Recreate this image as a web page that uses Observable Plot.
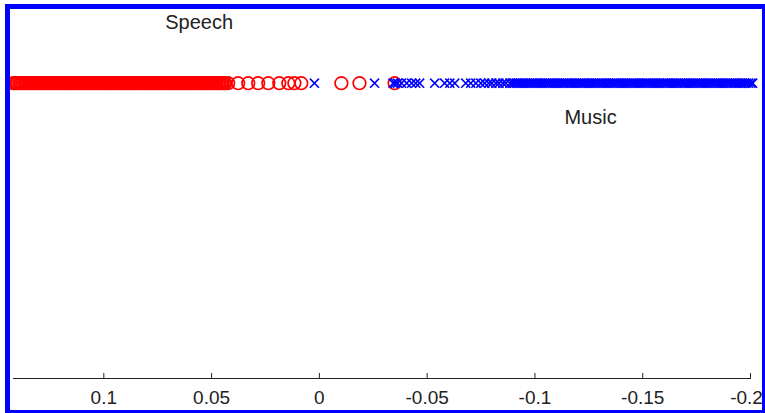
<!DOCTYPE html>
<html>
<head>
<meta charset="utf-8">
<script src="https://cdn.jsdelivr.net/npm/d3@7"></script>
<script src="https://cdn.jsdelivr.net/npm/@observablehq/plot@0.6"></script>
<style>
  html, body { margin: 0; padding: 0; background: #fff; overflow: hidden; }
  #wrap { position: relative; width: 765px; height: 413px; overflow: hidden; }
  #chart { position: absolute; left: 0; top: 0; }
  #border { position: absolute; left: 5px; top: 4px; width: 762px; height: 411px;
            box-sizing: border-box; border: 5px solid #0000ff; pointer-events: none; }
</style>
</head>
<body>
<div id="wrap"><div id="chart"></div><div id="border"></div></div>
<script>
// Speech feature values (red circles)
const speechValues = [
  0.1420, 0.1413, 0.1405, 0.1399, 0.1391, 0.1384, 0.1378, 0.1370, 0.1363, 0.1357,
  0.1349, 0.1342, 0.1336, 0.1328, 0.1321, 0.1315, 0.1307, 0.1300, 0.1294, 0.1286,
  0.1279, 0.1273, 0.1265, 0.1258, 0.1252, 0.1244, 0.1237, 0.1231, 0.1223, 0.1216,
  0.1210, 0.1202, 0.1195, 0.1189, 0.1181, 0.1174, 0.1168, 0.1160, 0.1153, 0.1147,
  0.1139, 0.1132, 0.1126, 0.1118, 0.1111, 0.1105, 0.1097, 0.1090, 0.1084, 0.1076,
  0.1069, 0.1063, 0.1055, 0.1048, 0.1042, 0.1034, 0.1027, 0.1021, 0.1013, 0.1006,
  0.0998, 0.0992, 0.0985, 0.0978, 0.0971, 0.0964, 0.0958, 0.0951, 0.0944, 0.0937,
  0.0931, 0.0923, 0.0916, 0.0910, 0.0903, 0.0896, 0.0889, 0.0882, 0.0876, 0.0868,
  0.0861, 0.0855, 0.0848, 0.0841, 0.0834, 0.0827, 0.0820, 0.0813, 0.0806, 0.0799,
  0.0793, 0.0786, 0.0779, 0.0772, 0.0765, 0.0758, 0.0751, 0.0745, 0.0738, 0.0731,
  0.0724, 0.0717, 0.0710, 0.0702, 0.0695, 0.0689, 0.0683, 0.0675, 0.0668, 0.0661,
  0.0655, 0.0648, 0.0641, 0.0634, 0.0627, 0.0620, 0.0612, 0.0606, 0.0600, 0.0593,
  0.0586, 0.0579, 0.0571, 0.0565, 0.0558, 0.0551, 0.0544, 0.0537, 0.0530, 0.0523,
  0.0517, 0.0510, 0.0503, 0.0496, 0.0489, 0.0482, 0.0476, 0.0469, 0.0462, 0.0455,
  0.0449, 0.0442, 0.0436,
  0.0423, 0.0377, 0.0330, 0.0284, 0.0237, 0.0186, 0.0144, 0.0116, 0.0084,
  -0.0102, -0.0186, -0.0349
];

// Music feature values (blue crosses)
const musicValues = [
  0.0023, -0.0256, -0.0342, -0.0352, -0.0363, -0.0381, -0.0405, -0.0428, -0.0447, -0.0465,
  -0.0535, -0.0581, -0.0605, -0.0628, -0.0679, -0.0702, -0.0726, -0.0749, -0.0767, -0.0786,
  -0.0800, -0.0819, -0.0833, -0.0851, -0.0865, -0.0884,
  -0.0895, -0.0905, -0.0914, -0.0925, -0.0934, -0.0944, -0.0955, -0.0963, -0.0974, -0.0984,
  -0.0993, -0.1004, -0.1013, -0.1024, -0.1033, -0.1043, -0.1054, -0.1062, -0.1073, -0.1083,
  -0.1092, -0.1103, -0.1112, -0.1122, -0.1133, -0.1141, -0.1152, -0.1162, -0.1171, -0.1182,
  -0.1191, -0.1201, -0.1212, -0.1220, -0.1231, -0.1241, -0.1250, -0.1261, -0.1270, -0.1280,
  -0.1291, -0.1299, -0.1310, -0.1320, -0.1329, -0.1340, -0.1349, -0.1359, -0.1370, -0.1378,
  -0.1389, -0.1399, -0.1408, -0.1419, -0.1428, -0.1438, -0.1449, -0.1457, -0.1468, -0.1478,
  -0.1487, -0.1498, -0.1507, -0.1517, -0.1528, -0.1536, -0.1547, -0.1557, -0.1566, -0.1577,
  -0.1586, -0.1596, -0.1607, -0.1615, -0.1626, -0.1636, -0.1645, -0.1656, -0.1665, -0.1675,
  -0.1686, -0.1694, -0.1705, -0.1715, -0.1724, -0.1735, -0.1744, -0.1754, -0.1765, -0.1773,
  -0.1784, -0.1794, -0.1803, -0.1814, -0.1823, -0.1833, -0.1844, -0.1852, -0.1863, -0.1873,
  -0.1882, -0.1893, -0.1902, -0.1912, -0.1923, -0.1931, -0.1942, -0.1952, -0.1961, -0.1972,
  -0.1981, -0.1991, -0.2002, -0.2010
];

// x-axis ticks
const tickValues = [0.1, 0.05, 0, -0.05, -0.1, -0.15, -0.2];
const tickLabels = ["0.1", "0.05", "0", "-0.05", "-0.1", "-0.15", "-0.2"];

// class labels
const labelNames = ["Speech", "Music"];
const labelX = [0.0558, -0.1258];
const labelY = [0.205, -0.116];

const speech = speechValues.map(v => ({v, level: 0}));
const music = musicValues.map(v => ({v, level: 0}));
const labels = labelNames.map((name, i) => ({name, x: labelX[i], y: labelY[i]}));

const axisStyle = {
  tickSize: 0,
  tickPadding: 12,
  fill: "#222",
  fontSize: 19,
  letterSpacing: 1.3,
  tickFormat: d => tickLabels[tickValues.indexOf(d)],
  label: null
};

const chart = Plot.plot({
  width: 765,
  height: 413,
  marginLeft: 13,
  marginRight: 15,
  marginTop: 0,
  marginBottom: 35,
  style: {fontFamily: "'Liberation Sans', Arial, sans-serif", background: "transparent"},
  x: {domain: [0.1419, -0.2]},
  y: {domain: [-1, 0.28], axis: null},
  marks: [
    Plot.frame({anchor: "bottom", stroke: "#222"}),
    Plot.tickX(tickValues, {x: d => d, insetTop: 373, stroke: "#222"}),
    Plot.axisX(tickValues.slice(0, -1), axisStyle),
    Plot.axisX(tickValues.slice(-1), {...axisStyle, dx: -4}),
    Plot.dot(speech, {x: "v", y: "level", symbol: "circle", r: 6.3, stroke: "#ff0000", strokeWidth: 1.7, fill: "none"}),
    Plot.dot(music, {x: "v", y: "level", symbol: "times", r: 4.2, stroke: "#0000ff", strokeWidth: 1.6}),
    Plot.text(labels, {x: "x", y: "y", text: "name", fontSize: 20, fill: "#222", letterSpacing: 1.9})
  ]
});
document.getElementById("chart").appendChild(chart);
</script>
</body>
</html>
